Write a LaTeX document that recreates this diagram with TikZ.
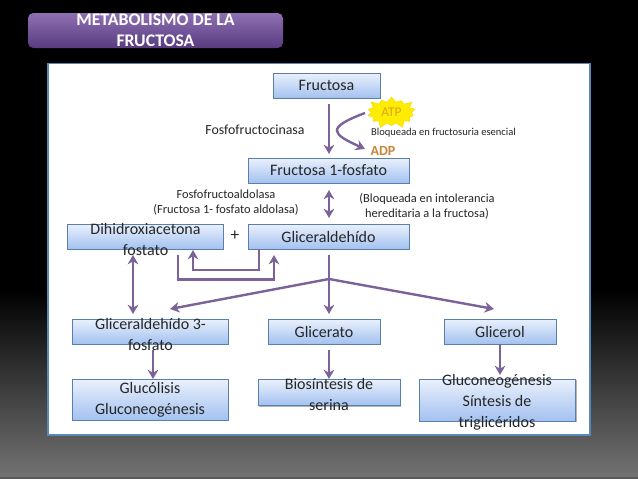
\documentclass[tikz,border=0pt]{standalone}
\usepackage{fontspec}
\setmainfont{Carlito}
\usetikzlibrary{arrows.meta,shapes.symbols,shadows}
\definecolor{flowpurple}{HTML}{7B6399}
\definecolor{boxline}{HTML}{5A7FA8}
\definecolor{boxtop}{HTML}{EAF1FC}
\definecolor{boxbottom}{HTML}{A3C1F0}
\definecolor{paneline}{HTML}{5B86B5}
\definecolor{txtdark}{HTML}{262626}
\definecolor{adporange}{HTML}{C9853C}
\definecolor{atporange}{HTML}{D9A520}
\definecolor{titletop}{HTML}{8E70B2}
\definecolor{titlebottom}{HTML}{583B80}
\tikzset{
  procbox/.style={draw=boxline, line width=0.6, top color=boxtop, bottom color=boxbottom,
    drop shadow={shadow xshift=0.8pt,shadow yshift=-0.8pt,opacity=0.3,fill=black},
    inner sep=0pt, outer sep=0pt, text=txtdark, font={\fontsize{12pt}{15.75}\selectfont}},
  boxtext/.style={align=center, inner sep=0pt, text=txtdark, font={\fontsize{12pt}{15.75}\selectfont}},
  smalltext/.style={align=center, inner sep=0pt, text=txtdark, font={\fontsize{9.3pt}{11}\selectfont}},
  flow/.style={draw=flowpurple, line width=1.8, arrows={-{Stealth[width=8,length=7]}}},
  flowboth/.style={draw=flowpurple, line width=1.8, arrows={{Stealth[width=8,length=7]}-{Stealth[width=8,length=7]}}}
}
\begin{document}
\begin{tikzpicture}[x=0.75pt,y=-0.75pt]
  \useasboundingbox (0,0) rectangle (638,479);
  % background
  \fill[black] (0,0) rectangle (638,290);
  \shade[top color=black, bottom color=black!55!white] (0,290) rectangle (638,477);
  \fill[black!65!white] (0,477) rectangle (638,479);

  % title
  \node[rounded corners=4, top color=titletop, bottom color=titlebottom,
    minimum width=191.25pt, minimum height=26.25pt, inner sep=0pt] (titlebox) at (155.5,30.5) {};
  \node[align=center, inner sep=0pt, white, font={\fontsize{13.3pt}{15.75}\bfseries\selectfont}] (title) at (155.5,30.5) {METABOLISMO DE LA\\FRUCTOSA};

  % panel
  \draw[draw=paneline, line width=1.4, fill=white] (48,63.5) rectangle (590,435);

  % boxes
  \node[procbox, minimum width=80.25pt, minimum height=18.75pt] (fructosa) at (326.5,85.5) {Fructosa};
  \node[procbox, minimum width=120.75pt, minimum height=18.75pt] (fosfato) at (328.5,170.5) {Fructosa 1-fosfato};
  \node[procbox, minimum width=120.75pt, minimum height=18.75pt] (gliceraldehido) at (328.5,236.5) {Gliceraldehído};
  \node[procbox, minimum width=117pt, minimum height=18.75pt] (dihidroxibox) at (145,236.5) {};
  \node[boxtext] (dihidroxi) at (145.5,239) {Dihidroxiacetona\\fostato};
  \node[procbox, minimum width=117pt, minimum height=18.75pt] (gtresbox) at (150,331.5) {};
  \node[boxtext] (gtres) at (150.5,334) {Gliceraldehído 3-\\fosfato};
  \node[procbox, minimum width=84pt, minimum height=18.75pt] (glicerato) at (324,331.5) {Glicerato};
  \node[procbox, minimum width=84pt, minimum height=18.75pt] (glicerol) at (500,331.5) {Glicerol};
  \node[procbox, minimum width=117pt, minimum height=30.75pt, align=center] (glucolisis) at (150,399.5) {Glucólisis\\Gluconeogénesis};
  \node[procbox, minimum width=106.5pt, minimum height=19.5pt] (biosbox) at (329,392.5) {};
  \node[boxtext] (bios) at (329,394) {Biosíntesis de\\serina};
  \node[procbox, minimum width=117pt, minimum height=31.5pt] (neobox) at (497.5,400) {};
  \node[boxtext] (neo) at (497,402) {Gluconeogénesis\\Síntesis de\\triglicéridos};

  % labels
  \node[starburst, starburst points=14, starburst point height=5pt, fill=yellow!95!orange, draw=yellow!75!orange, line width=0.4,
    minimum width=40pt, minimum height=26pt, inner sep=0pt, text=atporange, font={\fontsize{10pt}{12}\selectfont}] (atp) at (391.5,112.5) {ATP};
  \node[inner sep=0pt, text=adporange, font={\fontsize{10.5pt}{12}\bfseries\selectfont}] (adp) at (383,150.5) {ADP};
  \node[smalltext, font={\fontsize{10.4pt}{12}\selectfont}] (cinasa) at (255,130) {Fosfofructocinasa};
  \node[smalltext, font={\fontsize{7.9pt}{10}\selectfont}] (bloqueo) at (443.5,133) {Bloqueada en fructosuria esencial};
  \node[smalltext] (aldolasa) at (226,202.5) {Fosfofructoaldolasa\\(Fructosa 1- fosfato aldolasa)};
  \node[smalltext] (intolerancia) at (427,206) {(Bloqueada en intolerancia\\hereditaria a la fructosa)};
  \node[inner sep=0pt, text=txtdark, font={\fontsize{13pt}{14}\selectfont}] (mas) at (235,236) {+};

  \coordinate (branch) at (329,279);
  \coordinate (gtrestip) at (170,309);
  \coordinate (gliceroltip) at (494,309);
  \coordinate (atpend) at (365,113);
  \coordinate (adpend) at (365,149);

  % arrows
  \draw[flow] (329,104) -- (329,154);
  \draw[flowboth] (329,190) -- (329,218);
  \draw[flow] (329,255) -- (329,314);
  \draw[flow] (branch) -- (gtrestip);
  \draw[flow] (branch) -- (gliceroltip);
  \draw[flowboth] (133,255) -- (133,314);
  \draw[flow] (259,249) -- (259,270) -- (193,270) -- (193,250);
  \draw[flow] (178,255) -- (178,279.5) -- (274,279.5) -- (274,255);
  \draw[flow] (153,350) -- (153,379);
  \draw[flow] (329,350) -- (329,379);
  \draw[flow] (500,344) -- (500,375);
  \draw[flow] (atpend) .. controls (325,128) and (332,134) .. (adpend);
\end{tikzpicture}
\end{document}
